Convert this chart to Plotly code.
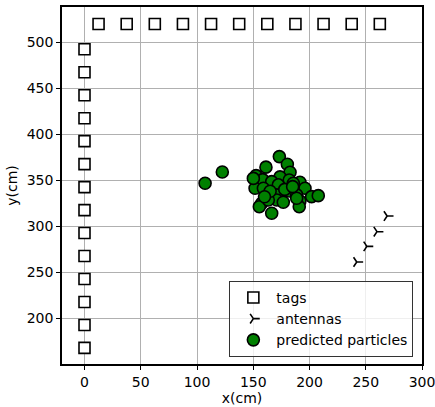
import plotly.graph_objects as go

# Tags
tag_top_x = [12.5, 37.5, 62.5, 87.5, 112.5, 137.5, 162.5, 187.5, 212.5, 237.5, 262.5]
tag_top_y = [520] * 11
tag_left_x = [0] * 14
tag_left_y = [492.5, 467.5, 442.5, 417.5, 392.5, 367.5, 342.5, 317.5, 292.5, 267.5, 242.5, 217.5, 192.5, 167.5]

# Antennas
ant_x = [242, 251, 260, 269]
ant_y = [261, 278, 294, 311]

# Predicted particles
part_x = [107.2, 122.5, 173.2, 180.3, 161.3, 182.7, 152.5, 158.4, 173.8, 166.4, 182.0, 191.5,
          151.6, 159.0, 172.3, 196.0, 182.0, 170.9, 188.6, 201.9, 207.8, 157.5, 170.9, 176.7,
          191.5, 190.9, 155.4, 166.4, 150.1, 163.4, 185.6, 188.6, 165.0, 178.0, 160.0, 185.0]
part_y = [346.7, 359.0, 375.7, 367.4, 364.2, 358.7, 355.0, 350.6, 353.6, 348.5, 350.3, 347.8,
          341.3, 341.3, 345.0, 341.3, 338.3, 334.0, 334.0, 332.1, 333.2, 325.0, 328.5, 326.0,
          327.4, 321.2, 321.2, 314.0, 352.0, 328.5, 346.7, 330.4, 338.0, 340.0, 332.0, 343.0]

tag_x = tag_top_x + tag_left_x
tag_y = tag_top_y + tag_left_y

fig = go.Figure()
fig.add_trace(go.Scatter(
    x=tag_x, y=tag_y, mode="markers", name="tags",
    marker=dict(symbol="square", size=11, color="white",
                line=dict(color="black", width=1.6)),
))
fig.add_trace(go.Scatter(
    x=ant_x, y=ant_y, mode="markers", name="antennas",
    marker=dict(symbol="y-right", size=8, color="black",
                line=dict(color="black", width=1.6)),
))
fig.add_trace(go.Scatter(
    x=part_x, y=part_y, mode="markers", name="predicted particles",
    marker=dict(symbol="circle", size=12, color="#008000",
                line=dict(color="black", width=1.6)),
))

axis_common = dict(
    showgrid=True, gridcolor="#b0b0b0", gridwidth=1,
    showline=True, linecolor="black", linewidth=1.6, mirror=True,
    ticks="outside", ticklen=4, tickcolor="black", tickwidth=1,
    zeroline=False, ticklabeloverflow="allow", automargin=False,
    tickfont=dict(family="DejaVu Sans", size=14, color="black"),
    title_font=dict(family="DejaVu Sans", size=14, color="black"),
)

fig.update_layout(
    width=435, height=407,
    margin=dict(l=62, r=13, t=7, b=43),
    plot_bgcolor="white", paper_bgcolor="white",
    font=dict(family="DejaVu Sans", size=14, color="black"),
    xaxis=dict(range=[-20, 300], tickvals=[0, 50, 100, 150, 200, 250, 300],
               title=dict(text="x(cm)", standoff=0), **axis_common),
    yaxis=dict(range=[150, 538.5], tickvals=[200, 250, 300, 350, 400, 450, 500],
               title=dict(text="y(cm)", standoff=6), **axis_common),
    legend=dict(
        x=0.976, y=0.02, xanchor="right", yanchor="bottom",
        bgcolor="rgba(255,255,255,0.8)", bordercolor="#333333", borderwidth=1,
        font=dict(family="DejaVu Sans", size=14, color="black"),
        tracegroupgap=0, itemsizing="trace", itemwidth=36,
    ),
    showlegend=True,
)

fig.write_html("out.html")
